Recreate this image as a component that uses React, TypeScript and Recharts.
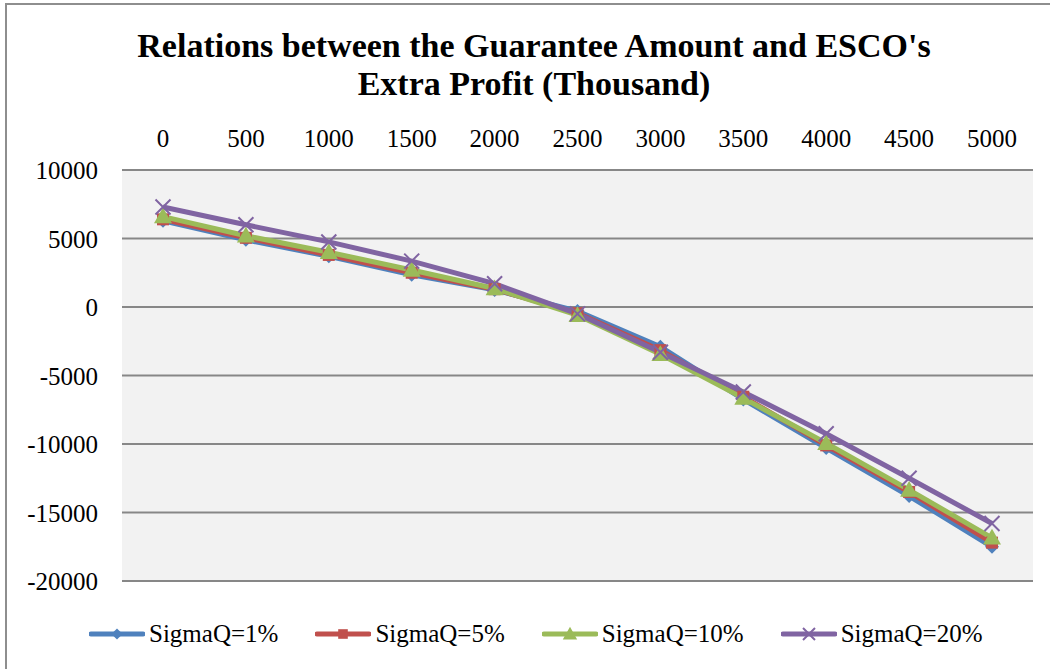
import React from 'react';
import { LineChart, Line, XAxis, YAxis, CartesianGrid, Legend } from 'recharts';

const amounts = [0, 500, 1000, 1500, 2000, 2500, 3000, 3500, 4000, 4500, 5000];
const sigma1 = [6300, 4900, 3700, 2350, 1250, -300, -2900, -6750, -10300, -13800, -17500];
const sigma5 = [6400, 5050, 3800, 2500, 1300, -450, -3150, -6550, -10100, -13500, -17200];
const sigma10 = [6600, 5200, 4000, 2700, 1350, -600, -3450, -6650, -9950, -13350, -16850];
const sigma20 = [7300, 6000, 4750, 3350, 1700, -500, -3300, -6200, -9250, -12500, -15800];
const yTicks = [-20000, -15000, -10000, -5000, 0, 5000, 10000];

const FONT = 'Liberation Serif, Times New Roman, serif';

const SERIES = [
    { key: 's1', name: 'SigmaQ=1%', color: '#4f81bd', shape: 'diamond' },
    { key: 's5', name: 'SigmaQ=5%', color: '#c0504d', shape: 'square' },
    { key: 's10', name: 'SigmaQ=10%', color: '#9bbb59', shape: 'triangle' },
    { key: 's20', name: 'SigmaQ=20%', color: '#8064a2', shape: 'cross' },
];

const data = amounts.map((a, i) => ({
    amount: a,
    s1: sigma1[i],
    s5: sigma5[i],
    s10: sigma10[i],
    s20: sigma20[i],
}));

const Marker = ({ shape, color, cx, cy, k = 1 }: { shape: string; color: string; cx: number; cy: number; k?: number }) => {
    if (shape === 'diamond') {
        const r = 7 * k;
        return <path d={`M${cx},${cy - r}L${cx + r},${cy}L${cx},${cy + r}L${cx - r},${cy}Z`} fill={color} />;
    }
    if (shape === 'square') {
        const r = 6 * k;
        return <rect x={cx - r} y={cy - r} width={2 * r} height={2 * r} fill={color} />;
    }
    if (shape === 'triangle') {
        const r = 9 * k;
        return <path d={`M${cx},${cy - r}L${cx + r},${cy + r * 0.75}L${cx - r},${cy + r * 0.75}Z`} fill={color} />;
    }
    const r = 7.5 * k;
    return (
        <path
            d={`M${cx - r},${cy - r}L${cx + r},${cy + r}M${cx + r},${cy - r}L${cx - r},${cy + r}`}
            stroke={color}
            strokeWidth={2}
            fill="none"
        />
    );
};

const makeDot = (shape: string, color: string) => (props: any) => {
    const { cx, cy, index } = props;
    if (cx == null || cy == null) return <g key={index} />;
    return (
        <g key={`${shape}-${index}`}>
            <Marker shape={shape} color={color} cx={cx} cy={cy} />
        </g>
    );
};

// tick renderer so the serif font is set directly on the text
const AxisTick = ({ x, y, payload, anchor }: any) => (
    <text
        x={x}
        y={y}
        textAnchor={anchor}
        dy={anchor === 'end' ? 9 : 0}
        fill="#000"
        fontSize={25}
        style={{ fontFamily: FONT }}
    >
        {payload.value}
    </text>
);

const LegendContent = () => (
    <div style={{ display: 'flex', alignItems: 'center', paddingLeft: 89, fontFamily: FONT, fontSize: 25 }}>
        {SERIES.map(s => (
            <div key={s.key} style={{ display: 'flex', alignItems: 'center', marginRight: 37 }}>
                <svg width={56} height={20} style={{ marginRight: 4 }}>
                    <line x1={2} y1={10} x2={54} y2={10} stroke={s.color} strokeWidth={5} strokeLinecap="round" />
                    <Marker shape={s.shape} color={s.color} cx={28} cy={10} k={0.8} />
                </svg>
                <span style={{ color: '#000', fontFamily: FONT }}>{s.name}</span>
            </div>
        ))}
    </div>
);

const App: React.FC = () => {
    return (
        <div
            style={{
                position: 'absolute',
                left: 0,
                top: 0,
                width: 1050,
                height: 669,
                background: '#fff',
                overflow: 'hidden',
                fontFamily: FONT,
            }}
        >
            <LineChart width={1050} height={669} data={data} margin={{ top: 130, right: 17, left: 0, bottom: 88 }}>
                <CartesianGrid vertical={false} stroke="#878787" strokeWidth={2} fill="#f2f2f2" fillOpacity={1} />
                <XAxis
                    dataKey="amount"
                    orientation="top"
                    height={40}
                    axisLine={false}
                    tickLine={false}
                    tickSize={0}
                    tickMargin={23}
                    interval={0}
                    padding={{ left: 41, right: 41 }}
                    tick={<AxisTick anchor="middle" />}
                />
                <YAxis
                    domain={[-20000, 10000]}
                    ticks={yTicks}
                    width={122}
                    axisLine={false}
                    tickLine={false}
                    tickSize={0}
                    tickMargin={24}
                    interval={0}
                    tick={<AxisTick anchor="end" />}
                />
                {SERIES.map(s => (
                    <Line
                        key={s.key}
                        dataKey={s.key}
                        name={s.name}
                        stroke={s.color}
                        strokeWidth={5}
                        dot={makeDot(s.shape, s.color)}
                        activeDot={false}
                        isAnimationActive={false}
                    />
                ))}
                <Legend
                    layout="horizontal"
                    verticalAlign="middle"
                    content={<LegendContent />}
                    wrapperStyle={{ position: 'absolute', top: 620, left: 0, width: 1050 }}
                />
            </LineChart>
            <svg width={1050} height={669} style={{ position: 'absolute', left: 0, top: 0, pointerEvents: 'none' }}>
                <rect x={6} y={4} width={1100} height={700} fill="none" stroke="#8e8e8e" strokeWidth={2} />
                <text x={534} y={57} textAnchor="middle" fontWeight="bold" fontSize={34} fill="#000" style={{ fontFamily: FONT }}>
                    Relations between the Guarantee Amount and ESCO's
                </text>
                <text x={534} y={95} textAnchor="middle" fontWeight="bold" fontSize={34} fill="#000" style={{ fontFamily: FONT }}>
                    Extra Profit (Thousand)
                </text>
            </svg>
        </div>
    );
};

export default App;
